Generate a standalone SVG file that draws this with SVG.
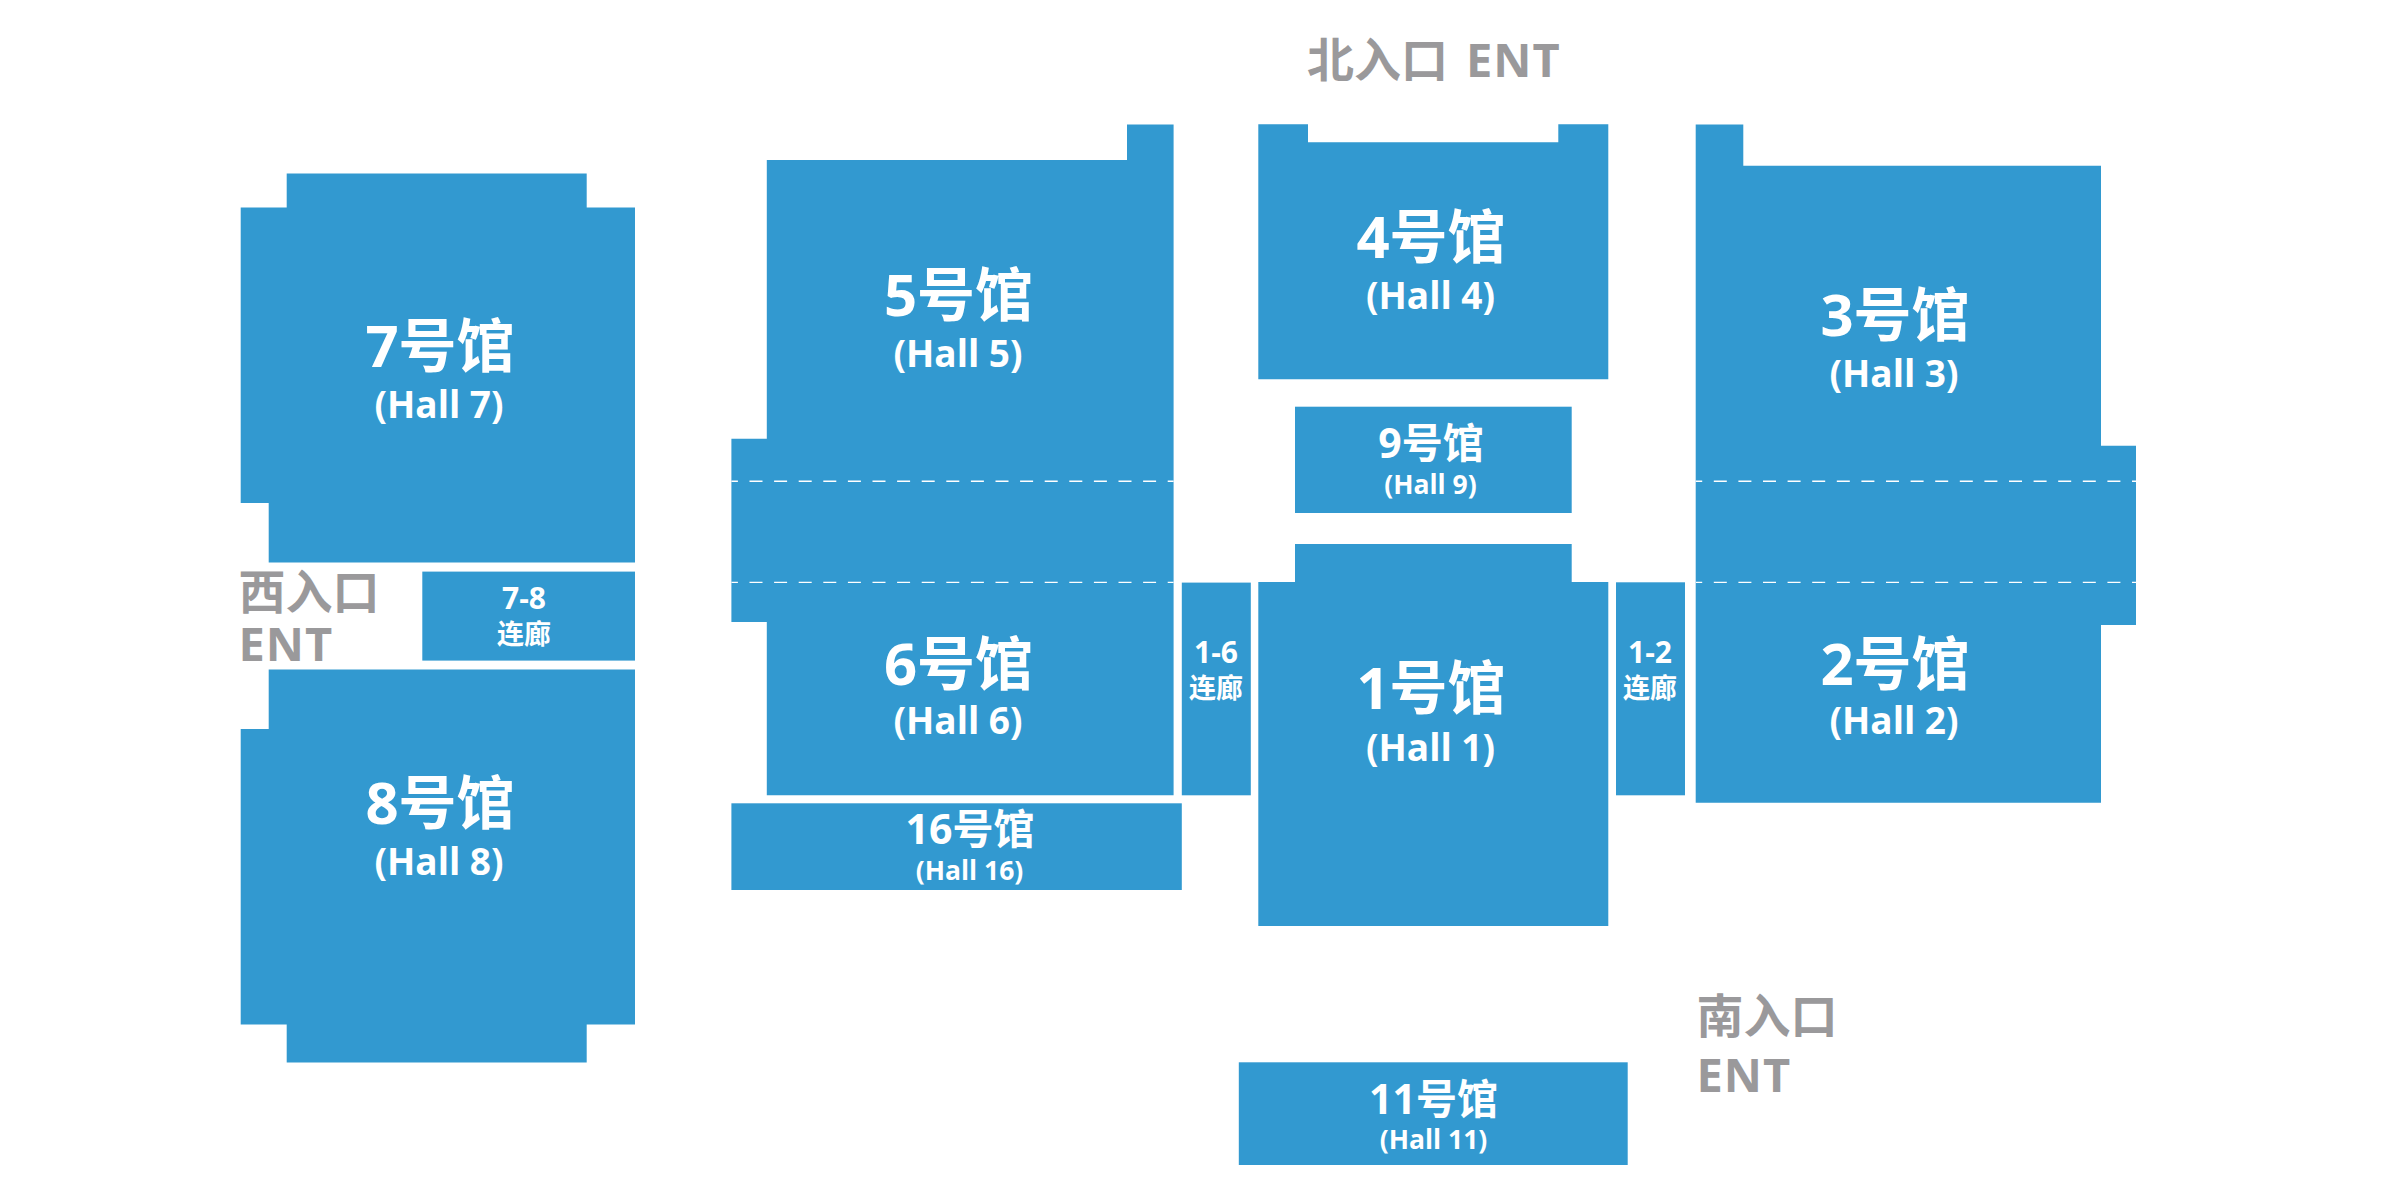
<svg xmlns="http://www.w3.org/2000/svg" width="2401" height="1201" viewBox="0 0 2401 1201">
<style>
text{font-family:"Open Sans","Noto Sans CJK SC",sans-serif;font-weight:700;text-anchor:middle;fill:#fff}
.b{fill:#3299d0}
.n{font-size:58px}.h{font-size:37px}
.n2{font-size:41px}.h2{font-size:26.5px}
.c{font-size:27px}.c2{font-size:30px}
.e{font-size:47px;fill:#9a999b;text-anchor:start}
.t{letter-spacing:1px}
.d{stroke:#fff;stroke-width:1.4;stroke-dasharray:13 11.6;fill:none}
</style>
<rect width="2401" height="1201" fill="#fff"/>
<g id="hall7"><polygon class="b" points="286.7,173.4 586.7,173.4 586.7,207.5 635,207.5 635,562.5 268.7,562.5 268.7,503 240.7,503 240.7,207.5 286.7,207.5"/><text class="n" x="440" y="367">7号馆</text><text class="h" x="439" y="418">(Hall 7)</text></g>
<g id="link78"><rect class="b" x="422.3" y="571.6" width="212.7" height="89"/><text class="c2" x="524" y="609">7-8</text><text class="c" x="524" y="644">连廊</text></g>
<g id="hall8"><polygon class="b" points="268.7,669.5 635,669.5 635,1024.5 586.7,1024.5 586.7,1062.4 286.7,1062.4 286.7,1024.5 240.7,1024.5 240.7,729 268.7,729"/><text class="n" x="440" y="823.5">8号馆</text><text class="h" x="439" y="875">(Hall 8)</text></g>
<g id="hall5"><polygon class="b" points="1127,124.4 1173.6,124.4 1173.6,583 731.4,583 731.4,438.8 766.8,438.8 766.8,160 1127,160"/><text class="n" x="958.5" y="315.5">5号馆</text><text class="h" x="958" y="367">(Hall 5)</text></g>
<g id="hall6"><polygon class="b" points="731.4,582.4 1173.6,582.4 1173.6,795.3 766.8,795.3 766.8,622 731.4,622"/><text class="n" x="958.5" y="684.5">6号馆</text><text class="h" x="958" y="734">(Hall 6)</text></g>
<g id="hall16"><rect class="b" x="731.4" y="803.3" width="450.4" height="86.7"/><text class="n2" x="970" y="843.5">16号馆</text><text class="h2" x="969.5" y="879.5">(Hall 16)</text></g>
<g id="link16"><rect class="b" x="1181.8" y="582.6" width="69" height="212.7"/><text class="c2" x="1216" y="662.5">1-6</text><text class="c" x="1216" y="697.5">连廊</text></g>
<g id="hall4"><polygon class="b" points="1258.3,124.3 1308,124.3 1308,142.2 1558.3,142.2 1558.3,124.3 1608.3,124.3 1608.3,379.2 1258.3,379.2"/><text class="n" x="1431" y="258">4号馆</text><text class="h" x="1430.5" y="308.6">(Hall 4)</text></g>
<g id="hall9"><rect class="b" x="1295" y="406.7" width="276.7" height="106.3"/><text class="n2" x="1431" y="458">9号馆</text><text class="h2" x="1430.5" y="493.5">(Hall 9)</text></g>
<g id="hall1"><polygon class="b" points="1295,544 1571.7,544 1571.7,582 1608.3,582 1608.3,926 1258.3,926 1258.3,582 1295,582"/><text class="n" x="1431" y="709">1号馆</text><text class="h" x="1430.5" y="760.7">(Hall 1)</text></g>
<g id="link12"><rect class="b" x="1616" y="582.3" width="69" height="213"/><text class="c2" x="1650" y="662.5">1-2</text><text class="c" x="1650" y="697.5">连廊</text></g>
<g id="hall3"><polygon class="b" points="1695.7,124.4 1743.3,124.4 1743.3,165.8 2101,165.8 2101,445.7 2136,445.7 2136,583 1695.7,583"/><text class="n" x="1895" y="335.5">3号馆</text><text class="h" x="1894" y="386.5">(Hall 3)</text></g>
<g id="hall2"><polygon class="b" points="1695.7,582.4 2136,582.4 2136,625 2101,625 2101,802.7 1695.7,802.7"/><text class="n" x="1895" y="684.5">2号馆</text><text class="h" x="1894" y="734">(Hall 2)</text></g>
<g id="hall11"><rect class="b" x="1238.8" y="1062.3" width="388.9" height="102.7"/><text class="n2" x="1433.5" y="1113.5">11号馆</text><text class="h2" x="1433.5" y="1149">(Hall 11)</text></g>
<g id="connectors">
<path class="d" stroke-dashoffset="6.5" d="M731.4 481.2H1173.6M731.4 582.4H1173.6"/>
<path class="d" stroke-dashoffset="6.5" d="M1695.7 481.2H2136M1695.7 582.4H2136"/>
</g>
<g id="entrances">
<text class="e" x="1307" y="76.5">北入口 <tspan class="t" x="1466">ENT</tspan></text>
<text class="e" x="238.5" y="609">西入口</text><text class="e t" x="238.5" y="661">ENT</text>
<text class="e" x="1696.5" y="1033">南入口</text><text class="e t" x="1696.5" y="1091.7">ENT</text>
</g>
</svg>
